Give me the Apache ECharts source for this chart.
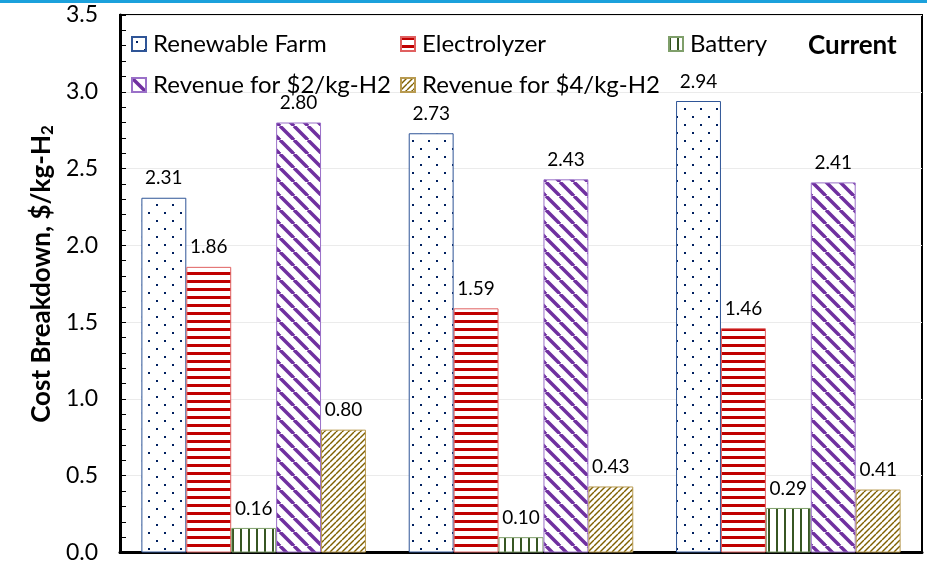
<!DOCTYPE html>
<html>
<head>
<meta charset="utf-8">
<script src="https://cdn.jsdelivr.net/npm/echarts@6/dist/echarts.min.js"></script>
<style>
  html, body { margin: 0; padding: 0; background: #fff; }
  #chart { width: 927px; height: 564px; }
</style>
</head>
<body>
<div id="chart"></div>
<script>
  // data
  const cases = ['Case 1', 'Case 2', 'Case 3']
  const seriesNames = ['Renewable Farm', 'Electrolyzer', 'Battery', 'Revenue for $2/kg-H2', 'Revenue for $4/kg-H2']
  const renewableFarm = [2.31, 2.73, 2.94]
  const electrolyzer = [1.86, 1.59, 1.46]
  const battery = [0.16, 0.10, 0.29]
  const revenue2 = [2.80, 2.43, 2.41]
  const revenue4 = [0.80, 0.43, 0.41]
  const yTicks = [0, 0.5, 1.0, 1.5, 2.0, 2.5, 3.0, 3.5]

  const FONT = 'Lato'

  function makeTile(w, h, draw) {
    const c = document.createElement('canvas')
    c.width = w
    c.height = h
    const ctx = c.getContext('2d')
    ctx.fillStyle = '#fff'
    ctx.fillRect(0, 0, w, h)
    draw(ctx)
    return { image: c, repeat: 'repeat' }
  }

  const dots = makeTile(16, 16, ctx => {
    ctx.fillStyle = '#002060'
    ctx.fillRect(4, 4, 2, 2)
    ctx.fillRect(12, 12, 2, 2)
  })
  const hStripes = makeTile(8, 8, ctx => {
    ctx.fillStyle = '#c00000'
    ctx.fillRect(0, 0, 8, 3)
  })
  const vStripes = makeTile(8, 8, ctx => {
    ctx.fillStyle = '#375623'
    ctx.fillRect(0, 0, 2, 8)
  })
  const backDiag = makeTile(14, 14, ctx => {
    ctx.strokeStyle = '#7030a0'
    ctx.lineWidth = 3.5
    for (let x0 of [-14, 0, 14]) {
      ctx.beginPath()
      ctx.moveTo(x0, 0)
      ctx.lineTo(x0 + 14, 14)
      ctx.stroke()
    }
  })
  const fwdDiag = makeTile(6, 6, ctx => {
    ctx.strokeStyle = '#7f6000'
    ctx.lineWidth = 1.4
    for (let x0 of [-6, 0, 6]) {
      ctx.beginPath()
      ctx.moveTo(x0, 6)
      ctx.lineTo(x0 + 6, 0)
      ctx.stroke()
    }
  })

  const fills = [dots, hStripes, vStripes, backDiag, fwdDiag]
  const borders = ['#2f5597', '#e06060', '#7f9f6a', '#9a70c8', '#b89a50']
  const values = [renewableFarm, electrolyzer, battery, revenue2, revenue4]

  const chart = echarts.init(document.getElementById('chart'))

  const legendPos = [
    [131, 32], [400, 32], [668, 32],
    [131, 73], [400, 73]
  ]

  chart.setOption({
    animation: false,
    textStyle: { fontFamily: FONT },
    grid: {
      left: 120,
      right: 5,
      top: 15,
      bottom: 7,
      show: true,
      borderColor: '#000',
      borderWidth: 2
    },
    legend: seriesNames.map((name, i) => ({
      data: [name],
      left: legendPos[i][0],
      top: legendPos[i][1],
      icon: 'rect',
      itemWidth: 14,
      itemHeight: 14,
      padding: 0,
      selectedMode: false,
      textStyle: {
        fontFamily: FONT,
        fontSize: 24,
        lineHeight: 24,
        color: '#000',
        padding: [0, 0, 0, 2]
      }
    })),
    xAxis: {
      type: 'category',
      data: cases,
      axisLine: { show: true, lineStyle: { color: '#000', width: 3 } },
      axisTick: { show: false },
      axisLabel: { show: false }
    },
    yAxis: {
      type: 'value',
      min: yTicks[0],
      max: yTicks[yTicks.length - 1],
      interval: 0.5,
      axisLine: { show: true, lineStyle: { color: '#000', width: 3 } },
      axisTick: { show: true, inside: true, length: 6, lineStyle: { color: '#000', width: 1 } },
      minorTick: { show: true, splitNumber: 5, length: 6, lineStyle: { color: '#000', width: 1 } },
      splitLine: { show: true, lineStyle: { color: '#ebebeb', width: 1 } },
      axisLabel: {
        fontFamily: FONT,
        fontSize: 23,
        color: '#000',
        margin: 22,
        formatter: v => v.toFixed(1)
      }
    },
    series: seriesNames.map((name, i) => ({
      name: name,
      type: 'bar',
      data: values[i],
      barGap: 0,
      barCategoryGap: '16%',
      itemStyle: {
        color: fills[i],
        borderColor: borders[i],
        borderWidth: 1
      },
      label: {
        show: true,
        position: 'top',
        distance: 10,
        fontFamily: FONT,
        fontSize: 19,
        color: '#000',
        formatter: p => p.value.toFixed(2)
      }
    })),
    graphic: [
      {
        type: 'rect',
        shape: { x: 0, y: 0, width: 927, height: 3 },
        style: { fill: '#1ba1dc' }
      },
      {
        type: 'text',
        x: 42,
        y: 274,
        rotation: Math.PI / 2,
        style: {
          text: '{a|Cost Breakdown, $/kg-H}{s|2}',
          align: 'center',
          verticalAlign: 'middle',
          rich: {
            a: { fontFamily: FONT, fontSize: 26, fontWeight: 'bold', fill: '#000' },
            s: { fontFamily: FONT, fontSize: 17, fontWeight: 'bold', fill: '#000', padding: [12, 0, 0, 0] }
          }
        }
      },
      {
        type: 'text',
        x: 808,
        y: 46,
        style: {
          text: 'Current',
          align: 'left',
          verticalAlign: 'middle',
          fontFamily: FONT,
          fontSize: 26,
          fontWeight: 'bold',
          fill: '#000'
        }
      }
    ]
  })
</script>
</body>
</html>
